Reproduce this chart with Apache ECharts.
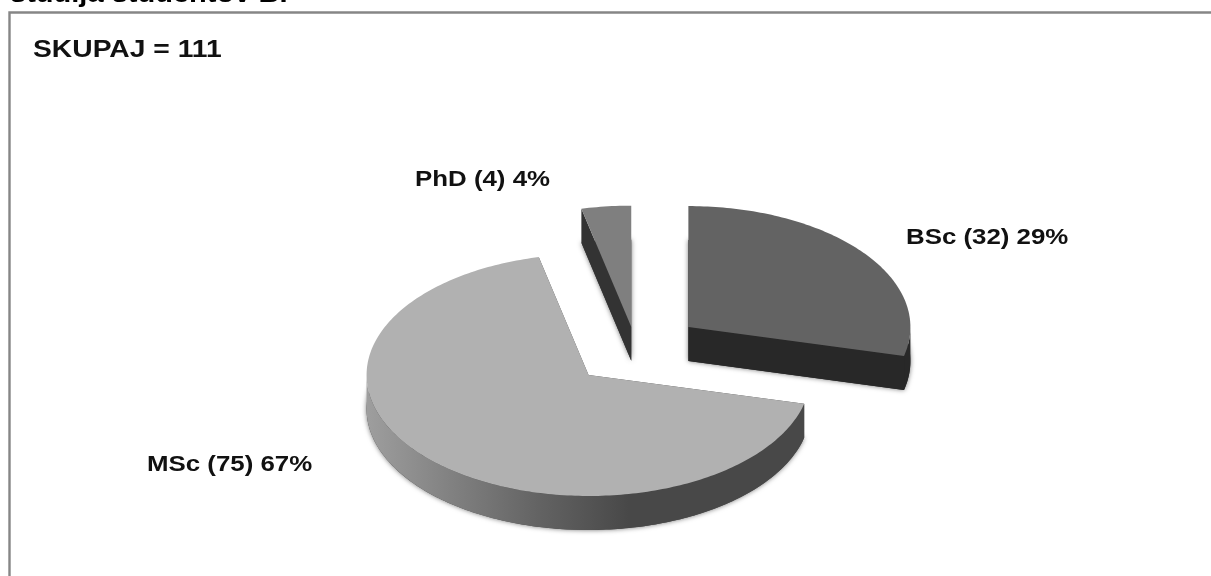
<!DOCTYPE html>
<html>
<head>
<meta charset="utf-8">
<title>SKUPAJ = 111</title>
<style>
  html, body { margin: 0; padding: 0; background: #fff; overflow: hidden; }
  #chart { width: 1211px; height: 576px; }
</style>
<script src="https://cdn.jsdelivr.net/npm/echarts@6/dist/echarts.min.js"></script>
</head>
<body>
<div id="chart"></div>
<script>
// Student counts per study level
const categories = ['BSc', 'MSc', 'PhD'];
const studentCounts = [32, 75, 4];
const percentLabels = [29, 67, 4];
const totalText = 'SKUPAJ = 111';
const headingText = 'študija študentov BF';

// Slice styling and tilted-disc geometry
const topColors = ['#636363', '#b1b1b1', '#7f7f7f'];
const cutColors = ['#282828', '#484848', '#333333'];
const rimFills = [
  '#282828',
  { type: 'linear', x: 0, y: 0, x2: 1, y2: 0, colorStops: [
    { offset: 0, color: '#9e9e9e' },
    { offset: 0.2, color: '#808080' },
    { offset: 0.4, color: '#626262' },
    { offset: 0.6, color: '#484848' },
    { offset: 1, color: '#484848' }
  ] },
  '#333333'
];
const explodeBy = [0.3, 0.3, 0.19];
const labelSpots = [[906, 238], [147, 465], [415, 180]];
const disc = { cx: 636, cy: 349.5, rx: 222, ry: 121, depth: 34 };
const boldFont = '"Liberation Sans", Arial, sans-serif';
const labelStretch = 1.175;

const total = studentCounts.reduce((a, b) => a + b, 0);
const toAngle = (v) => (v / total) * 360;

function rimPoint(cx, cy, deg, dy) {
  const r = (deg * Math.PI) / 180;
  return [cx + disc.rx * Math.sin(r), cy - disc.ry * Math.cos(r) + (dy || 0)];
}

function arcPoints(cx, cy, from, to, dy) {
  const pts = [];
  const steps = Math.max(2, Math.ceil(Math.abs(to - from)));
  for (let i = 0; i <= steps; i++) {
    pts.push(rimPoint(cx, cy, from + ((to - from) * i) / steps, dy));
  }
  return pts;
}

// Draws one exploded slice: soft base shadow, cut faces, outer rim, then the top face
function renderSlice(params, api) {
  const i = params.dataIndex;
  let start = 0;
  for (let k = 0; k < i; k++) start += toAngle(studentCounts[k]);
  const end = start + toAngle(api.value(0));
  const mid = (start + end) / 2;
  const midRad = (mid * Math.PI) / 180;
  const e = explodeBy[i];
  const cx = disc.cx + e * disc.rx * Math.sin(midRad);
  const cy = disc.cy - e * disc.ry * Math.cos(midRad);
  const d = disc.depth;

  const children = [];
  const wedge = (dy) => [[cx, cy + dy]].concat(arcPoints(cx, cy, start, end, dy));

  children.push({
    type: 'polygon',
    shape: { points: wedge(d) },
    style: { fill: cutColors[i], shadowBlur: 5, shadowColor: 'rgba(0,0,0,0.55)' }
  });

  [start, end].forEach((deg) => {
    const outer = rimPoint(cx, cy, deg, 0);
    children.push({
      type: 'polygon',
      shape: { points: [[cx, cy], outer, [outer[0], outer[1] + d], [cx, cy + d]] },
      style: { fill: cutColors[i] }
    });
  });

  const rimFrom = Math.max(start, 90);
  const rimTo = Math.min(end, 270);
  if (rimTo > rimFrom) {
    const upper = arcPoints(cx, cy, rimFrom, rimTo, 0);
    const lower = arcPoints(cx, cy, rimFrom, rimTo, d).reverse();
    children.push({
      type: 'polygon',
      shape: { points: upper.concat(lower) },
      style: { fill: rimFills[i] }
    });
  }

  children.push({
    type: 'polygon',
    shape: { points: wedge(0) },
    style: { fill: topColors[i] }
  });

  children.push({
    type: 'text',
    x: labelSpots[i][0],
    y: labelSpots[i][1],
    scaleX: labelStretch,
    style: {
      text: categories[i] + ' (' + api.value(0) + ') ' + percentLabels[i] + '%',
      fontFamily: boldFont,
      fontWeight: 'bold',
      fontSize: 22,
      fill: '#111',
      align: 'left',
      verticalAlign: 'middle'
    }
  });

  return { type: 'group', children };
}

const chart = echarts.init(document.getElementById('chart'), null, { renderer: 'canvas' });
chart.setOption({
  animation: false,
  backgroundColor: '#ffffff',
  graphic: [
    {
      type: 'rect',
      z: 0,
      shape: { x: 9.5, y: 12.5, width: 1400, height: 800 },
      style: { fill: '#fff', stroke: '#868686', lineWidth: 2.4 }
    },
    {
      type: 'text',
      x: 33,
      y: 51,
      scaleX: 1.228,
      z: 5,
      style: {
        text: totalText,
        fontFamily: boldFont,
        fontWeight: 'bold',
        fontSize: 23,
        fill: '#111',
        align: 'left',
        verticalAlign: 'middle'
      }
    },
    {
      type: 'text',
      x: 10,
      y: -5.6,
      scaleX: 1.117,
      z: 5,
      style: {
        text: headingText,
        fontFamily: boldFont,
        fontWeight: 'bold',
        fontSize: 26,
        fill: '#000',
        align: 'left',
        verticalAlign: 'middle'
      }
    }
  ],
  series: [{
    type: 'custom',
    coordinateSystem: 'none',
    silent: true,
    z: 3,
    renderItem: renderSlice,
    data: studentCounts.map((v, i) => ({ name: categories[i], value: [v] }))
  }]
});
</script>
</body>
</html>
